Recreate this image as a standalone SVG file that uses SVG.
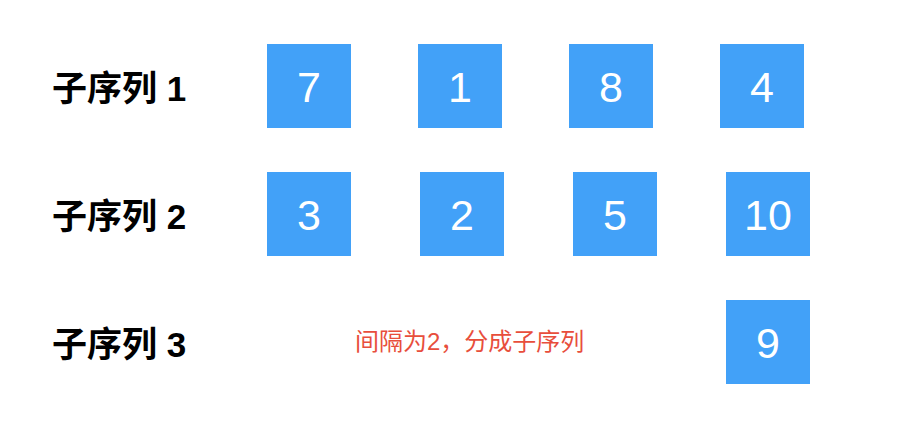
<svg xmlns="http://www.w3.org/2000/svg" width="914" height="444" viewBox="0 0 914 444">
<style>
.box{fill:#42A1F8}
.num{fill:#FFFFFF;font-family:"Liberation Sans","Noto Sans CJK SC",sans-serif;font-size:43px;text-anchor:middle}
.lbl{fill:#000000;font-family:"Liberation Sans","Noto Sans CJK SC",sans-serif;font-size:35px;font-weight:bold}
.note{fill:#E84E3C;font-family:"Liberation Sans","Noto Sans CJK SC",sans-serif;font-size:24px}
</style>
<rect width="914" height="444" fill="#FFFFFF"/>
<g id="labels">
<text class="lbl" x="52" y="101">子序列 1</text>
<text class="lbl" x="52" y="229">子序列 2</text>
<text class="lbl" x="52" y="357">子序列 3</text>
</g>
<g id="n7"><rect class="box" x="267" y="44" width="84" height="84"/><text class="num" x="309" y="102">7</text></g>
<g id="n1"><rect class="box" x="418" y="44" width="84" height="84"/><text class="num" x="460" y="102">1</text></g>
<g id="n8"><rect class="box" x="569" y="44" width="84" height="84"/><text class="num" x="611" y="102">8</text></g>
<g id="n4"><rect class="box" x="720" y="44" width="84" height="84"/><text class="num" x="762" y="102">4</text></g>
<g id="n3"><rect class="box" x="267" y="172" width="84" height="84"/><text class="num" x="309" y="230">3</text></g>
<g id="n2"><rect class="box" x="420" y="172" width="84" height="84"/><text class="num" x="462" y="230">2</text></g>
<g id="n5"><rect class="box" x="573" y="172" width="84" height="84"/><text class="num" x="615" y="230">5</text></g>
<g id="n10"><rect class="box" x="726" y="172" width="84" height="84"/><text class="num" x="768" y="230">10</text></g>
<g id="n9"><rect class="box" x="726" y="300" width="84" height="84"/><text class="num" x="768" y="358">9</text></g>
<g id="connectors"></g>
<g id="note"><text class="note" x="355" y="350">间隔为2，分成子序列</text></g>
</svg>
